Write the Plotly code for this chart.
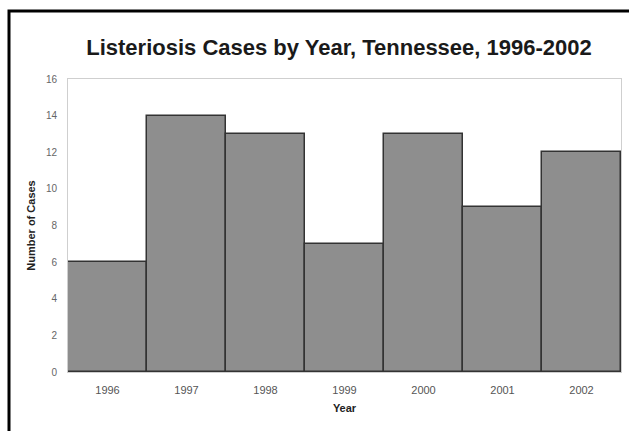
import plotly.graph_objects as go

years = ["1996", "1997", "1998", "1999", "2000", "2001", "2002"]
cases = [6, 14, 13, 7, 13, 9, 12]
y_ticks = [0, 2, 4, 6, 8, 10, 12, 14, 16]

W, H = 629, 431
ml, mr, mt, mb = 68, 8, 79, 59
pw, ph = W - ml - mr, H - mt - mb

fig = go.Figure(
    go.Bar(
        x=years,
        y=cases,
        marker=dict(color="#8e8e8e", line=dict(color="#333333", width=1.5)),
        hoverinfo="x+y",
    )
)

# outer black frame (left and top edges visible, the rest runs off-page)
def px_x(p):
    return (p - ml) / pw

def px_y(p):
    return (H - mb - p) / ph

fig.add_shape(
    type="rect", xref="paper", yref="paper",
    x0=px_x(9), x1=px_x(W + 20), y0=px_y(H + 20), y1=px_y(11),
    line=dict(color="black", width=3), fillcolor="rgba(0,0,0,0)",
    layer="above",
)

fig.update_layout(
    width=W, height=H,
    margin=dict(l=ml, r=mr, t=mt, b=mb),
    paper_bgcolor="white", plot_bgcolor="white",
    bargap=0,
    showlegend=False,
    font=dict(family="Liberation Sans, Arial, sans-serif", color="#444"),
    title=dict(
        text="<b>Listeriosis Cases by Year, Tennessee, 1996-2002</b>",
        font=dict(size=22, color="#1a1a1a"),
        x=339 / W, xanchor="center", y=1 - 47 / H, yanchor="middle",
    ),
    xaxis=dict(
        title=dict(text="<b>Year</b>", font=dict(size=11, color="#222"), standoff=9),
        tickfont=dict(size=11, color="#555"),
        ticklabelstandoff=8,
        showline=True, linecolor="#cfcfcf", mirror=True, linewidth=1,
        ticks="", showgrid=False,
    ),
    yaxis=dict(
        title=dict(text="<b>Number of Cases</b>", font=dict(size=11, color="#222"), standoff=8),
        tickfont=dict(size=10, color="#666"),
        ticklabelstandoff=8,
        range=[0, 16], tickvals=y_ticks,
        showline=True, linecolor="#cfcfcf", mirror=True, linewidth=1,
        ticks="", showgrid=False, zeroline=False,
    ),
)

fig.write_html("out.html")
